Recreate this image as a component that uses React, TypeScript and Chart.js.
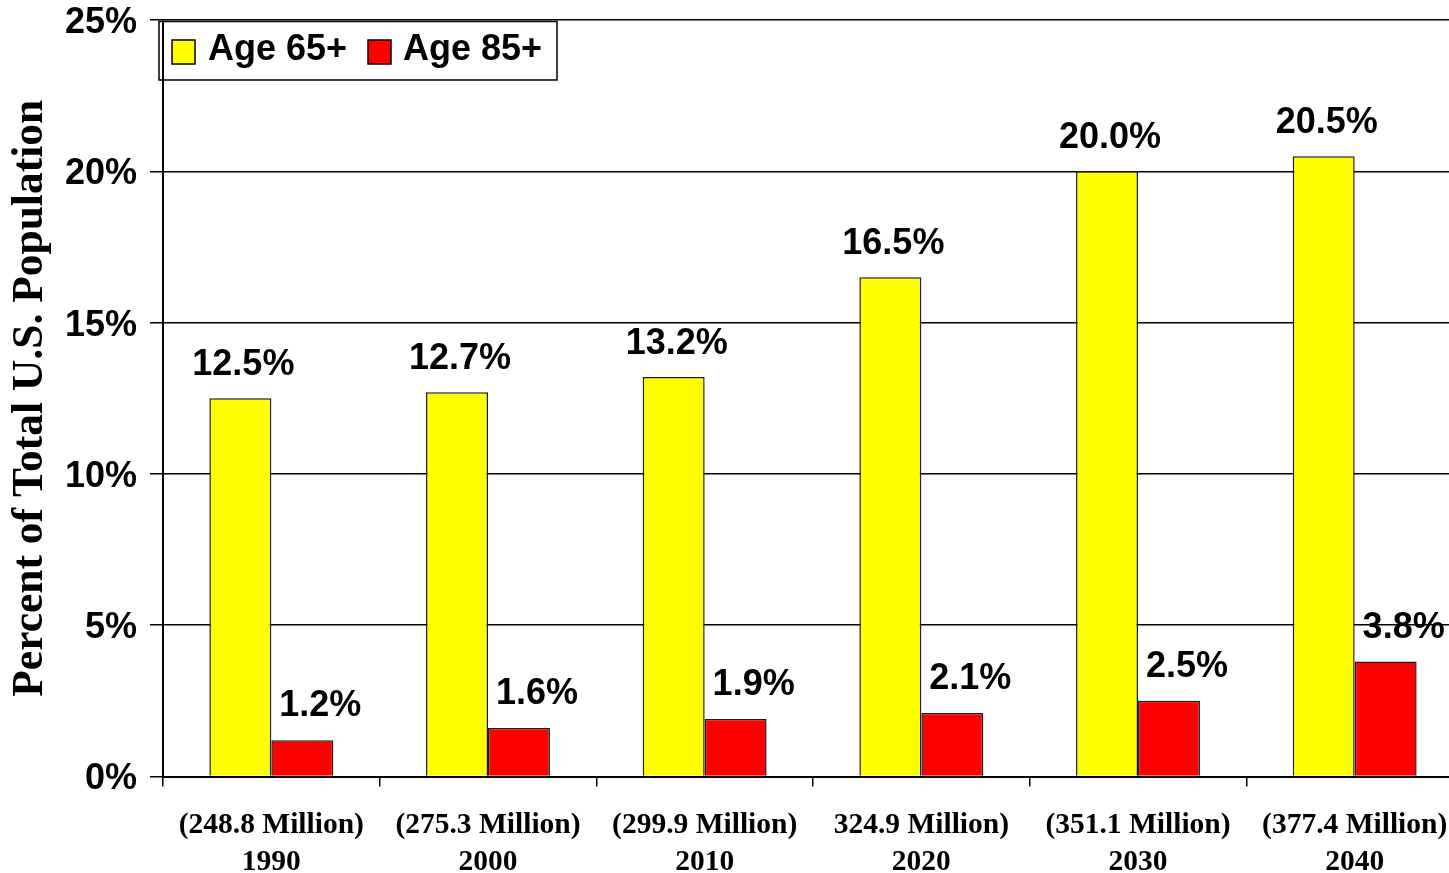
import React, { useEffect, useRef } from "react";
import { Chart, registerables } from "chart.js";

Chart.register(...registerables);

const populations = ["(248.8 Million)", "(275.3 Million)", "(299.9 Million)", "324.9 Million)", "(351.1 Million)", "(377.4 Million)"];
const years = ["1990", "2000", "2010", "2020", "2030", "2040"];
const age65 = [12.5, 12.7, 13.2, 16.5, 20.0, 20.5];
const age85 = [1.2, 1.6, 1.9, 2.1, 2.5, 3.8];
const seriesNames = ["Age 65+", "Age 85+"];
const yTicks = [0, 5, 10, 15, 20, 25];

const SANS = "'Liberation Sans', Arial, sans-serif";
const SERIF = "'Liberation Serif', 'Times New Roman', serif";

const valueLabels = {
  id: "valueLabels",
  afterDatasetsDraw(chart: any) {
    const ctx = chart.ctx;
    ctx.save();
    ctx.font = `bold 36px ${SANS}`;
    ctx.fillStyle = "#000";
    ctx.textAlign = "center";
    ctx.textBaseline = "alphabetic";
    chart.data.datasets.forEach((ds: any, di: number) => {
      const meta = chart.getDatasetMeta(di);
      const dx = di === 0 ? 3 : 18;
      const dy = di === 0 ? 23 : 24;
      meta.data.forEach((bar: any, i: number) => {
        const v = ds.data[i];
        ctx.fillText(v.toFixed(1) + "%", bar.x + dx, bar.y - dy);
      });
    });
    ctx.restore();
  },
};

const boxLegend = {
  id: "boxLegend",
  afterDraw(chart: any) {
    const ctx = chart.ctx;
    ctx.save();
    ctx.strokeStyle = "#000";
    ctx.lineWidth = 1.5;
    ctx.strokeRect(159, 21.5, 398, 58.5);
    const items = [
      { x: 172, tx: 208 },
      { x: 368, tx: 403 },
    ];
    chart.data.datasets.forEach((ds: any, i: number) => {
      const it = items[i];
      ctx.fillStyle = ds.backgroundColor;
      ctx.fillRect(it.x, 40, 23, 24);
      ctx.lineWidth = 1.5;
      ctx.strokeStyle = "#000";
      ctx.strokeRect(it.x, 40, 23, 24);
      ctx.fillStyle = "#000";
      ctx.font = `bold 36px ${SANS}`;
      ctx.textAlign = "left";
      ctx.textBaseline = "alphabetic";
      ctx.fillText(ds.label, it.tx, 59.5);
    });
    ctx.restore();
  },
};

export default function App() {
  const ref = useRef<HTMLCanvasElement>(null);
  useEffect(() => {
    if (!ref.current) return;
    const chart = new Chart(ref.current, {
      type: "bar",
      data: {
        labels: populations.map((p, i) => [p, years[i]]),
        datasets: [
          {
            label: seriesNames[0],
            data: age65,
            backgroundColor: "#FFFF00",
            borderColor: "#1a1a1a",
            borderWidth: 1.5,
            categoryPercentage: 0.572,
            barPercentage: 1,
          },
          {
            label: seriesNames[1],
            data: age85,
            backgroundColor: "#FF0000",
            borderColor: "#1a1a1a",
            borderWidth: 1.5,
            categoryPercentage: 0.572,
            barPercentage: 1,
          },
        ],
      },
      options: {
        responsive: false,
        animation: false,
        layout: { padding: { left: 0, right: 7, top: 20, bottom: 0 } },
        plugins: {
          legend: { display: false },
          tooltip: { enabled: false },
        },
        scales: {
          x: {
            grid: {
              offset: true,
              drawOnChartArea: false,
              tickLength: 10,
              color: "#000",
              lineWidth: 1.5,
            },
            border: { display: true, color: "#000", width: 2 },
            ticks: {
              color: "#000",
              font: { family: SERIF, weight: "bold", size: 29.5, lineHeight: 1.26 },
              padding: 20,
              maxRotation: 0,
              autoSkip: false,
            },
            afterFit(scale: any) {
              scale.height = 96.5;
            },
          },
          y: {
            min: 0,
            max: 25,
            afterBuildTicks(scale: any) {
              scale.ticks = yTicks.map((v) => ({ value: v }));
            },
            grid: { color: "#000", lineWidth: 1.5, tickLength: 13 },
            border: { display: true, color: "#000", width: 2 },
            ticks: {
              color: "#000",
              font: { family: SANS, weight: "bold", size: 36, lineHeight: 0.2 },
              padding: 13,
              labelOffset: 3,
              callback: (v: any) => v + "%",
            },
            title: {
              display: true,
              text: "Percent of Total U.S. Population",
              color: "#000",
              font: { family: SERIF, weight: "bold", size: 43.5, lineHeight: 1.2 },
              padding: { top: 5, bottom: 0 },
            },
            afterFit(scale: any) {
              scale.width = 163;
            },
          },
        },
      },
      plugins: [valueLabels, boxLegend],
    });
    return () => chart.destroy();
  }, []);
  return (
    <div style={{ position: "absolute", left: 0, top: 0, width: 1449, height: 873, overflow: "hidden", background: "#fff" }}>
      <canvas ref={ref} width={1470} height={873} style={{ width: 1470, height: 873, display: "block" }} />
    </div>
  );
}
